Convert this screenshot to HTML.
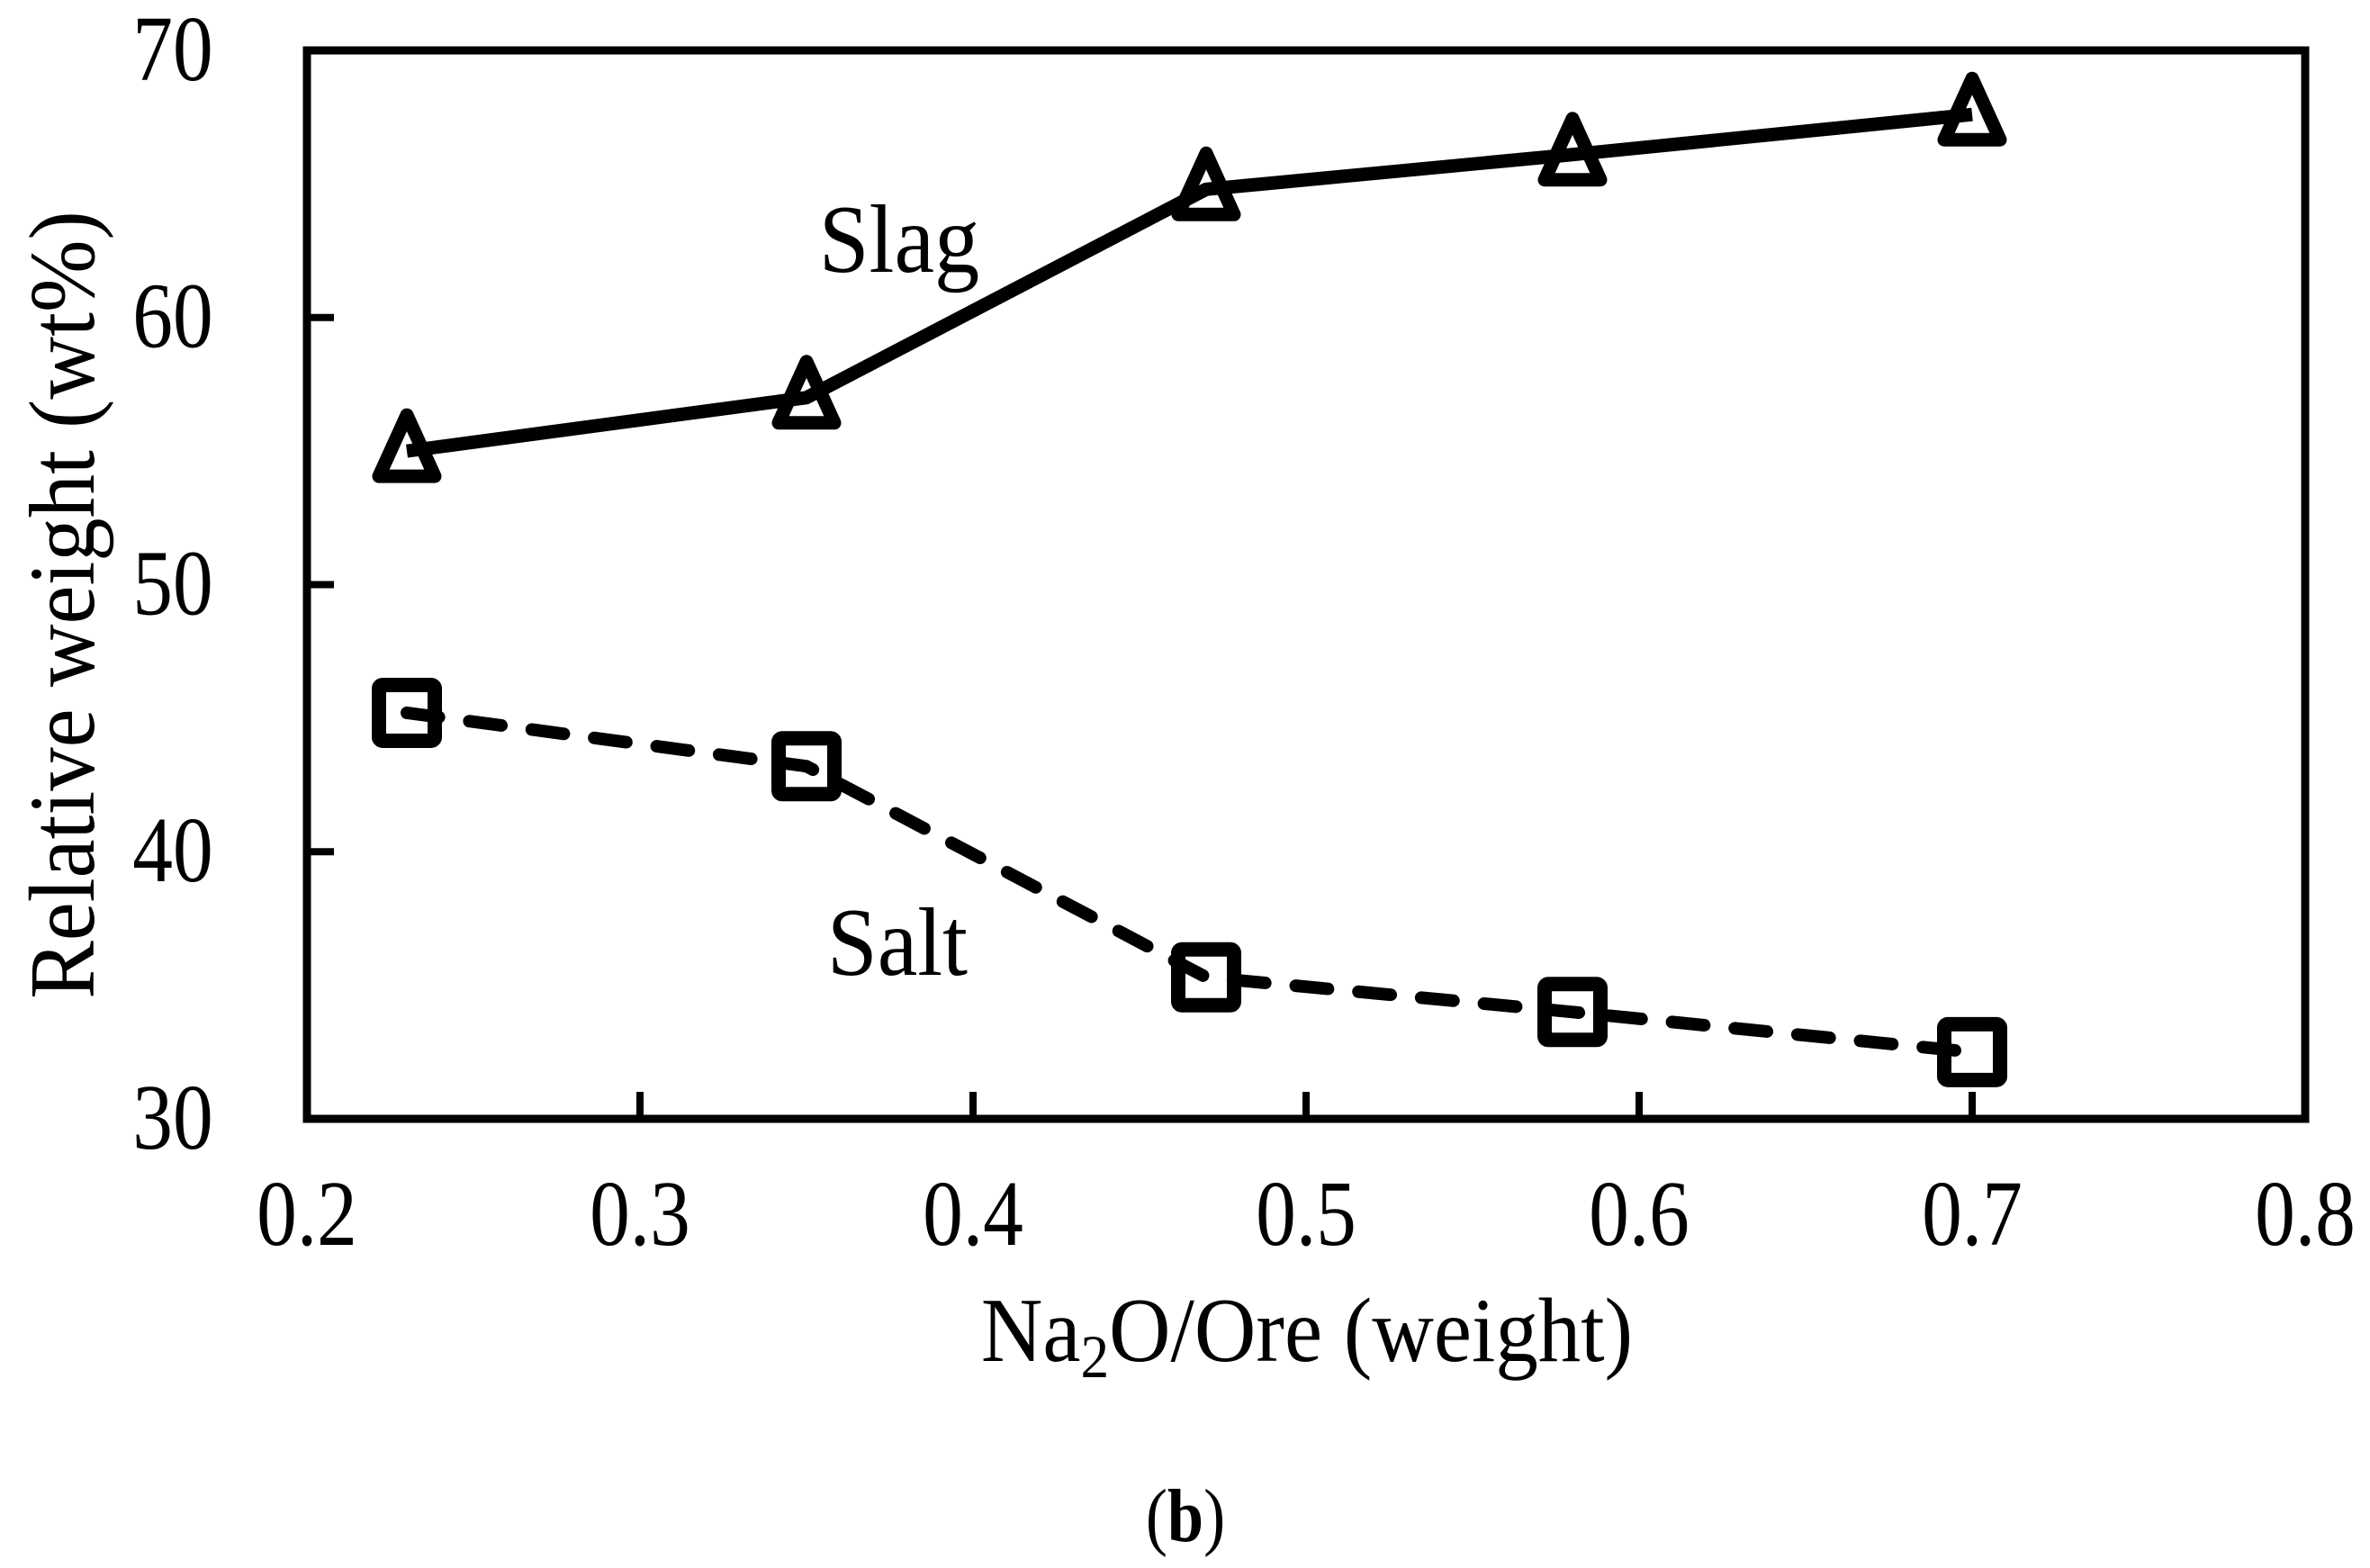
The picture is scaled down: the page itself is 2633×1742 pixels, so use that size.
<!DOCTYPE html>
<html><head><meta charset="utf-8"><style>
html,body{margin:0;padding:0;background:#fff;}
svg{display:block;}
text{font-family:"Liberation Serif",serif;fill:#000;}
.cx{transform-box:fill-box;transform-origin:center;transform:scaleX(0.86);}
.cx2{transform-box:fill-box;transform-origin:center;transform:scaleX(0.93);}
</style></head><body>
<svg id="chart" width="2633" height="1742" viewBox="0 0 2633 1742" xmlns="http://www.w3.org/2000/svg">
<rect x="0" y="0" width="2633" height="1742" fill="#fff"/>
<g id="ticks"></g>
<g id="series"></g>
<rect x="341" y="56" width="2220" height="1187" fill="none" stroke="#000" stroke-width="9"/>
<text class="cx2" x="903" y="302" font-size="108">Slag</text>
<text class="cx2" x="913" y="1083" font-size="108">Salt</text>
<text class="cx2" x="1452" y="1512" font-size="102" text-anchor="middle">Na<tspan font-size="68" dy="18">2</tspan><tspan dy="-18">O/Ore (weight)</tspan></text>
<g transform="translate(104,672) rotate(-90)"><text class="cx2" x="0" y="0" font-size="104" text-anchor="middle">Relative weight (wt%)</text></g>
<text class="cx" x="1317" y="1712" font-size="84" text-anchor="middle">(<tspan font-weight="bold">b</tspan>)</text>
</svg>
<script>
const xCats = [0.23, 0.35, 0.47, 0.58, 0.70];
const slag = [55.0, 57.0, 64.8, 66.1, 67.6];
const salt = [45.2, 43.2, 35.3, 34.0, 32.5];
const xTicks = [0.2, 0.3, 0.4, 0.5, 0.6, 0.7, 0.8];
const xTickLabels = ["0.2", "0.3", "0.4", "0.5", "0.6", "0.7", "0.8"];
const yTicks = [30, 40, 50, 60, 70];
const yTickLabels = ["30", "40", "50", "60", "70"];

const NS = "http://www.w3.org/2000/svg";
const X0 = 341, X1 = 2561, Y0 = 1243, Y1 = 56;
function xs(v){ return X0 + (v - 0.2) / 0.6 * (X1 - X0); }
function ys(v){ return Y0 - (v - 30) / 40 * (Y0 - Y1); }
function mk(tag, attrs, parent){ const e = document.createElementNS(NS, tag); for (const k in attrs) e.setAttribute(k, attrs[k]); parent.appendChild(e); return e; }

const tg = document.getElementById('ticks');
xTicks.forEach((v, i) => {
  if (i > 0 && i < xTicks.length - 1) {
    const t = mk('line', {x1: xs(v), x2: xs(v), y1: Y0, y2: Y0 - 30, stroke: '#000', 'stroke-width': 8}, tg);
    
    
  }
  const l = mk('text', {x: xs(v), y: 1383, 'font-size': 104, 'text-anchor': 'middle', 'class': 'cx'}, tg);
  l.textContent = xTickLabels[i];
  
  
});
yTicks.forEach((v, i) => {
  if (i > 0 && i < yTicks.length - 1) {
    const t = mk('line', {x1: X0, x2: X0 + 30, y1: ys(v), y2: ys(v), stroke: '#000', 'stroke-width': 8}, tg);
    
    
  }
  const l = mk('text', {x: 192, y: ys(v) + 33, 'font-size': 104, 'text-anchor': 'middle', 'class': 'cx'}, tg);
  l.textContent = yTickLabels[i];
  
  
});

const sg = document.getElementById('series');
const slagPts = xCats.map((x, i) => xs(x) + ',' + ys(slag[i])).join(' ');
const saltPts = xCats.map((x, i) => xs(x) + ',' + ys(salt[i])).join(' ');
const sl = mk('polyline', {points: slagPts, fill: 'none', stroke: '#000', 'stroke-width': 15, 'stroke-linejoin': 'round'}, sg);


const sa = mk('polyline', {points: saltPts, fill: 'none', stroke: '#000', 'stroke-width': 14, 'stroke-linecap': 'round', 'stroke-dasharray': '36 34'}, sg);



xCats.forEach((x, i) => {
  const cx = xs(x), cy = ys(slag[i]);
  const t = mk('polygon', {points: `${cx},${cy - 40} ${cx - 31},${cy + 28} ${cx + 31},${cy + 28}`, fill: 'none', stroke: '#000', 'stroke-width': 15, 'stroke-linejoin': 'round'}, sg);
  
  
  const sy = ys(salt[i]);
  const s = mk('rect', {x: cx - 31, y: sy - 31, width: 62, height: 62, rx: 4, fill: 'none', stroke: '#000', 'stroke-width': 16}, sg);
  
  
});
</script>
</body></html>
